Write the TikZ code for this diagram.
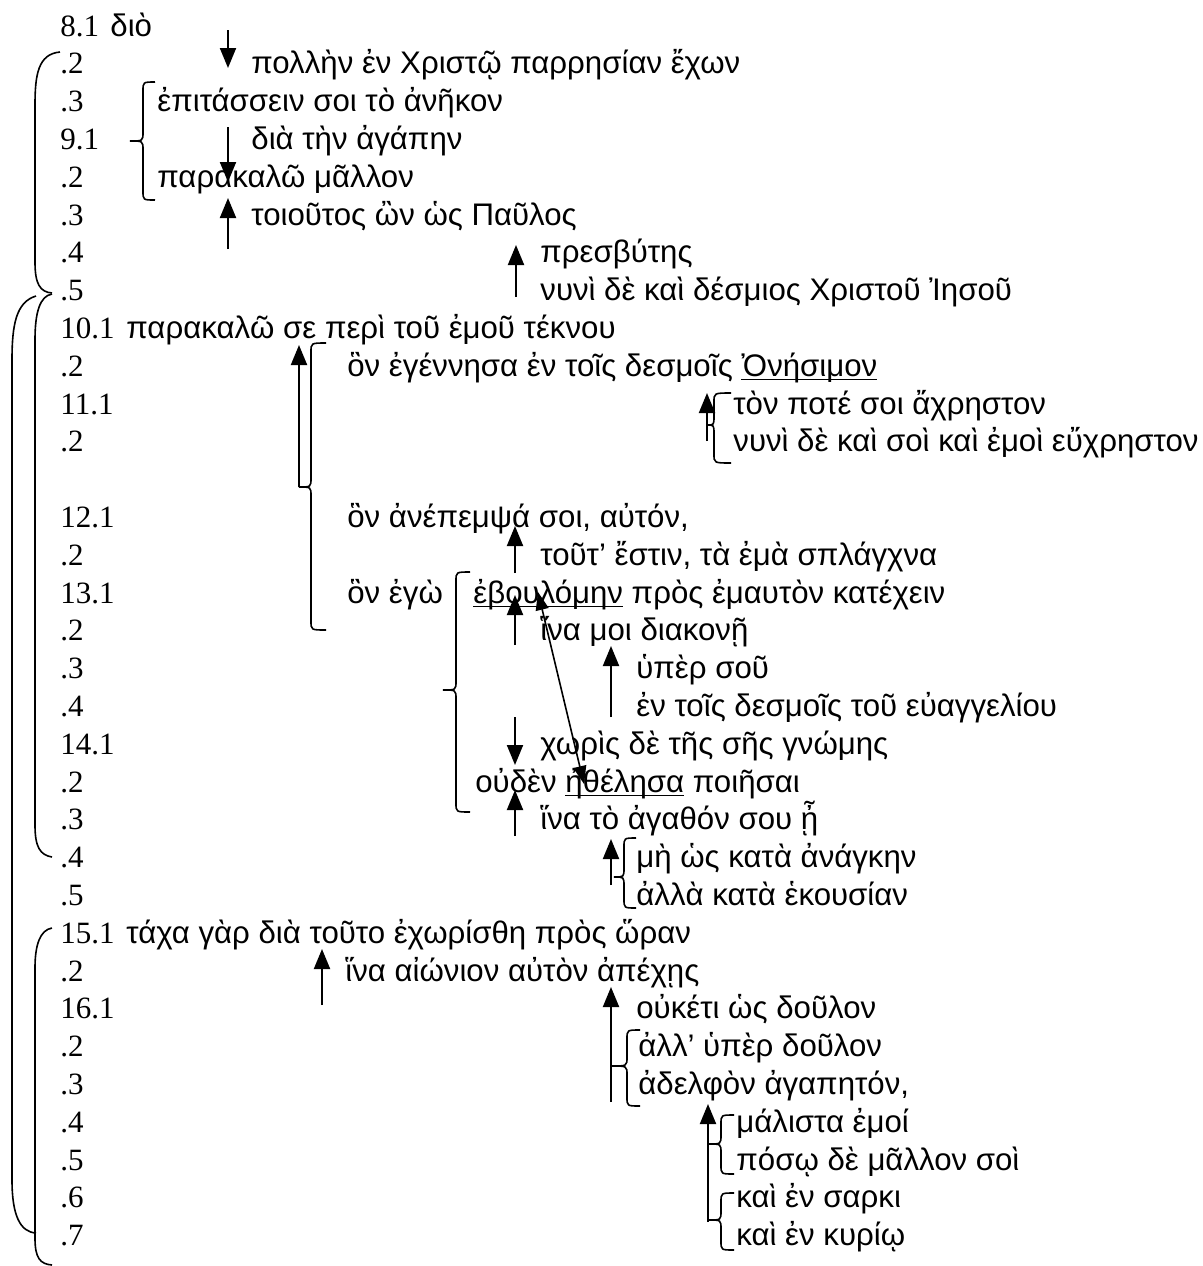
\documentclass[tikz,border=0pt]{standalone}
\usepackage{fontspec}
\setmainfont{Liberation Sans}
\newfontfamily\numfont{Liberation Serif}
\usetikzlibrary{arrows.meta}

\newsavebox\ulbox
\newcommand{\ul}[1]{\sbox\ulbox{#1}\rlap{\rule[-2pt]{\wd\ulbox}{0.6pt}}\usebox\ulbox}
% baseline of a verse row
\newcommand{\rw}[1]{36+37.8*(#1)}
% brace: end x, stem x, tip x, top y, tip y, bottom y
\newcommand{\grp}[6]{%
  \draw[grp] (#1,#4) .. controls (#2,#4) .. (#2,{#4+9}) -- (#2,{#5-9})
    .. controls (#2,#5) .. (#3,#5) .. controls (#2,#5) .. (#2,{#5+9})
    -- (#2,{#6-9}) .. controls (#2,#6) .. (#1,#6);}

\begin{document}
\begin{tikzpicture}[x=0.5pt,y=-0.5pt,
  num/.style={anchor=base west,inner sep=0pt,font=\numfont\fontsize{15.5}{17}\selectfont},
  txt/.style={anchor=base west,inner sep=0pt,font=\fontsize{15.6}{18}\selectfont},
  arr/.style={line width=1pt,-{Triangle[length=10pt,width=8pt]}},
  darr/.style={line width=0.8pt,{Triangle[length=9pt,width=6.5pt]}-{Triangle[length=9pt,width=6.5pt]}},
  grp/.style={line width=0.8pt}]
\useasboundingbox (0,0) rectangle (1203,1266);

% verse numbers
\foreach \r/\t in {0/8.1,1/.2,2/.3,3/9.1,4/.2,5/.3,6/.4,7/.5,8/10.1,9/.2,10/11.1,11/.2,
  13/12.1,14/.2,15/13.1,16/.2,17/.3,18/.4,19/14.1,20/.2,21/.3,22/.4,23/.5,
  24/15.1,25/.2,26/16.1,27/.2,28/.3,29/.4,30/.5,31/.6,32/.7}
  \node[num] (n\r) at (60,{\rw{\r}}) {\t};

% text lines
\node[txt] (g0) at (110,{\rw{0}}) {διὸ};
\node[txt] (g1) at (251,{\rw{1}}) {πολλὴν ἐν Χριστῷ παρρησίαν ἔχων};
\node[txt] (g2) at (157,{\rw{2}}) {ἐπιτάσσειν σοι τὸ ἀνῆκον};
\node[txt] (g3) at (251,{\rw{3}}) {διὰ τὴν ἀγάπην};
\node[txt] (g4) at (157,{\rw{4}}) {παρακαλῶ μᾶλλον};
\node[txt] (g5) at (251,{\rw{5}}) {τοιοῦτος ὢν ὡς Παῦλος};
\node[txt] (g6) at (540,{\rw{6}}) {πρεσβύτης};
\node[txt] (g7) at (540,{\rw{7}}) {νυνὶ δὲ καὶ δέσμιος Χριστοῦ Ἰησοῦ};
\node[txt] (g8) at (126,{\rw{8}}) {παρακαλῶ σε περὶ τοῦ ἐμοῦ τέκνου};
\node[txt] (g9) at (347,{\rw{9}}) {ὃν ἐγέννησα ἐν τοῖς δεσμοῖς \ul{Ὀνήσιμον}};
\node[txt] (g10) at (733,{\rw{10}}) {τὸν ποτέ σοι ἄχρηστον};
\node[txt] (g11) at (733,{\rw{11}}) {νυνὶ δὲ καὶ σοὶ καὶ ἐμοὶ εὔχρηστον};
\node[txt] (g13) at (347,{\rw{13}}) {ὃν ἀνέπεμψά σοι, αὐτόν,};
\node[txt] (g14) at (540,{\rw{14}}) {τοῦτ’ ἔστιν, τὰ ἐμὰ σπλάγχνα};
\node[txt] (g15) at (347,{\rw{15}}) {ὃν ἐγὼ};
\node[txt] (g15b) at (473,{\rw{15}}) {\ul{ἐβουλόμην} πρὸς ἐμαυτὸν κατέχειν};
\node[txt] (g16) at (540,{\rw{16}}) {ἵνα μοι διακονῇ};
\node[txt] (g17) at (636,{\rw{17}}) {ὑπὲρ σοῦ};
\node[txt] (g18) at (636,{\rw{18}}) {ἐν τοῖς δεσμοῖς τοῦ εὐαγγελίου};
\node[txt] (g19) at (540,{\rw{19}}) {χωρὶς δὲ τῆς σῆς γνώμης};
\node[txt] (g20) at (475,{\rw{20}}) {οὐδὲν \ul{ἠθέλησα} ποιῆσαι};
\node[txt] (g21) at (540,{\rw{21}}) {ἵνα τὸ ἀγαθόν σου ᾖ};
\node[txt] (g22) at (636,{\rw{22}}) {μὴ ὡς κατὰ ἀνάγκην};
\node[txt] (g23) at (636,{\rw{23}}) {ἀλλὰ κατὰ ἑκουσίαν};
\node[txt] (g24) at (126,{\rw{24}}) {τάχα γὰρ διὰ τοῦτο ἐχωρίσθη πρὸς ὥραν};
\node[txt] (g25) at (345,{\rw{25}}) {ἵνα αἰώνιον αὐτὸν ἀπέχῃς};
\node[txt] (g26) at (636,{\rw{26}}) {οὐκέτι ὡς δοῦλον};
\node[txt] (g27) at (638,{\rw{27}}) {ἀλλ’ ὑπὲρ δοῦλον};
\node[txt] (g28) at (638,{\rw{28}}) {ἀδελφὸν ἀγαπητόν,};
\node[txt] (g29) at (736,{\rw{29}}) {μάλιστα ἐμοί};
\node[txt] (g30) at (736,{\rw{30}}) {πόσῳ δὲ μᾶλλον σοὶ};
\node[txt] (g31) at (736,{\rw{31}}) {καὶ ἐν σαρκι};
\node[txt] (g32) at (736,{\rw{32}}) {καὶ ἐν κυρίῳ};

% arrows
\foreach \n/\x/\ys/\ye in {1/228/30/68, 3/228/127/182, 5/228/249/198, 6/516/297/245,
  9/299/487/345, 10/707/441/393, 14/515/573/526, 16/515/645/595, 17/611/717/646,
  19/515/717/765, 21/515/836/790, 22/611/885/839, 25/322/1005/949,
  26/611/1102/987, 29/708/1222/1104}
{
  \coordinate (s\n) at (\x,\ys);
  \coordinate (e\n) at (\x,\ye);
  \draw[arr] (s\n) -- (e\n);
}
\coordinate (d1) at (538,592);
\coordinate (d2) at (584,784);
\draw[darr] (d1) -- (d2);

% braces
\grp{155}{143}{130}{82}{141}{200}
\grp{326}{311}{299}{343}{487}{630}
\grp{731}{714}{707}{393}{425}{463}
\grp{470}{456}{443}{572}{690}{812}
\grp{636}{624}{614}{838}{877}{908}
\grp{640}{627}{612}{1030}{1066}{1106}
\grp{734}{721}{709}{1115}{1144}{1174}
\grp{734}{721}{709}{1193}{1220}{1250}

% brackets on the left
\draw[grp] (60,52) .. controls (38,54) and (35,75) .. (35,105) -- (35,262)
  .. controls (35,284) and (40,292) .. (52,293);
\draw[grp] (52,294) .. controls (40,296) and (35,312) .. (35,340) -- (35,825)
  .. controls (35,847) and (40,855) .. (52,857);
\draw[grp] (36,296) .. controls (16,302) and (12,325) .. (12,360) -- (12,1180)
  .. controls (12,1215) and (20,1232) .. (36,1233);
\draw[grp] (52,928) .. controls (40,930) and (35,945) .. (35,968) -- (35,1238)
  .. controls (35,1258) and (40,1264) .. (52,1265);
\end{tikzpicture}
\end{document}
